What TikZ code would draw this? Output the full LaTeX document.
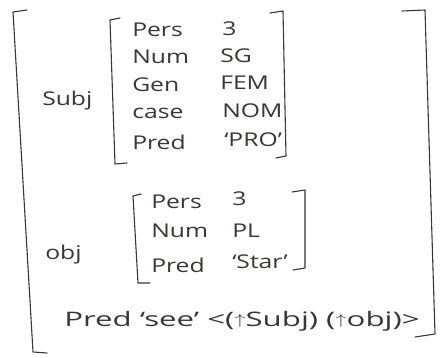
\documentclass[tikz,border=0pt]{standalone}
\usepackage{fontspec}
\setmainfont{Open Sans}
\definecolor{ink}{HTML}{3A3634}
\newcommand{\upar}{\raisebox{0.15ex}{\fontsize{14}{14}\selectfont$\uparrow$}}
\begin{document}
\begin{tikzpicture}[x=1pt,y=-1pt,
  every node/.style={text=ink, font=\fontsize{19}{22}\selectfont, inner sep=0pt, xscale=1.3, transform shape},
  attr/.style={anchor=west},
  val/.style={anchor=west},
  wide/.style={xscale=1.2, font=\fontsize{20}{24}\selectfont},
  brk/.style={draw=ink, line width=1.1pt, line join=round, line cap=round}]
\useasboundingbox[fill=white] (0,0) rectangle (440,358);

% outer brackets (hand-drawn, slightly slanting)
\draw[brk] (27,10) -- (13,12) -- (33,352) -- (47,353);
\draw[brk] (402,11) -- (425,10) -- (435,334) -- (415,337);

% subject
\node[attr] (subj) at (42,101) {Subj};
\draw[brk] (120,18) -- (110,20) -- (115,164) -- (127,163);
\draw[brk] (270,13) -- (283,11) -- (286,156) -- (276,158);
\node[attr] (p1) at (132,30) {Pers};
\node[val]  (v1) at (222,29) {3};
\node[attr] (p2) at (132,57) {Num};
\node[val]  (v2) at (220,56) {SG};
\node[attr] (p3) at (132,85) {Gen};
\node[val]  (v3) at (220,83) {FEM};
\node[attr] (p4) at (132,113) {case};
\node[val]  (v4) at (222,111) {NOM};
\node[attr] (p5) at (132,142) {Pred};
\node[val]  (v5) at (224,140) {`PRO'};

% object
\node[attr] (obj) at (45,255) {obj};
\draw[brk] (141,194) -- (133,196) -- (138,283) -- (150,283);
\draw[brk] (292,192) -- (305,190) -- (305,268) -- (293,270);
\node[attr] (q1) at (151,202) {Pers};
\node[val]  (w1) at (232,199) {3};
\node[attr] (q2) at (151,231) {Num};
\node[val]  (w2) at (232,231) {PL};
\node[attr] (q3) at (151,265) {Pred};
\node[val]  (w3) at (232,262) {`Star'};

% predicate of the clause
\node[attr, wide] (pred) at (64,321) {Pred `see' <(\upar Subj) (\upar obj)>};
\end{tikzpicture}
\end{document}
